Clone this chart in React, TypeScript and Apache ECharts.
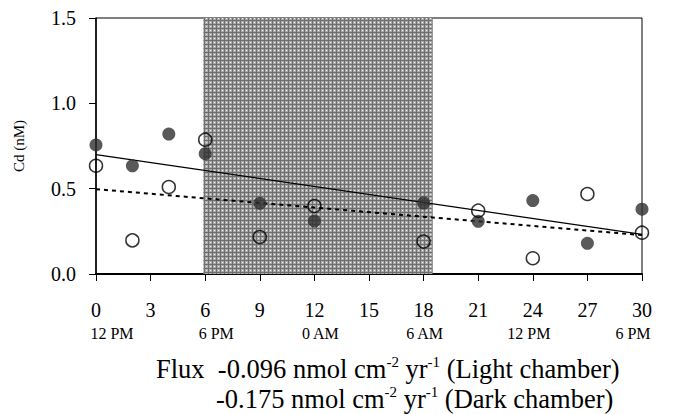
import React, { useEffect, useRef } from "react";
import * as echarts from "echarts";

const hours = [0, 2, 4, 6, 9, 12, 18, 21, 24, 27, 30];
const filledCd = [0.756, 0.634, 0.82, 0.705, 0.414, 0.31, 0.416, 0.309, 0.43, 0.18, 0.38];
const openCd = [0.634, 0.197, 0.51, 0.787, 0.217, 0.398, 0.19, 0.371, 0.092, 0.469, 0.242];
const solidTrend = [[0, 0.7], [30, 0.232]];
const dashedTrend = [[0, 0.497], [30, 0.228]];
const darkStart = 5.9;
const darkEnd = 18.5;
const timeLabels = ["12 PM", "6 PM", "0 AM", "6 AM", "12 PM", "6 PM"];
const yTicks = ["0.0", "0.5", "1.0", "1.5"];

const SERIF = "Liberation Serif";

function makePattern(): string {
  const c = document.createElement("canvas");
  c.width = 4;
  c.height = 4;
  const ctx = c.getContext("2d")!;
  for (let x = 0; x < 4; x++) {
    for (let y = 0; y < 4; y++) {
      let col = "#ababab";
      if (x === 0 || y === 0) col = "#6e6e6e";
      else if (x === 2 && y === 2) col = "#eeeeee";
      ctx.fillStyle = col;
      ctx.fillRect(x, y, 1, 1);
    }
  }
  return c.toDataURL();
}

export default function App() {
  const ref = useRef<HTMLDivElement>(null);
  useEffect(() => {
    document.body.style.margin = "0";
    if (!ref.current) return;
    const chart = echarts.init(ref.current, null, { renderer: "svg" });
    const pattern = { image: makePattern(), repeat: "repeat", imageWidth: 4, imageHeight: 4 };
    const sup = { fontSize: 15, lineHeight: 14, verticalAlign: "top", fontFamily: SERIF, color: "#000" };
    const base = { fontSize: 26.5, lineHeight: 30, fontFamily: SERIF, color: "#000" };
    chart.setOption({
      animation: false,
      backgroundColor: "#fff",
      textStyle: { fontFamily: SERIF },
      grid: [
        { left: 96, right: 31, top: 18, bottom: 140, show: true, borderColor: "#000", borderWidth: 1 },
        { left: 112, right: 40, top: 18, bottom: 140, show: false },
      ],
      xAxis: [
        {
          type: "value",
          gridIndex: 0,
          min: 0,
          max: 30,
          interval: 3,
          axisLine: { show: true, onZero: false, lineStyle: { color: "#000", width: 2 } },
          axisTick: { show: true, inside: false, length: 7, lineStyle: { color: "#000" } },
          axisLabel: { margin: 26, fontSize: 20, fontFamily: SERIF, color: "#000" },
          splitLine: { show: false },
        },
        {
          type: "value",
          gridIndex: 1,
          min: 0,
          max: 30,
          interval: 6,
          axisLine: { show: false },
          axisTick: { show: false },
          axisLabel: {
            margin: 51,
            fontSize: 16,
            fontFamily: SERIF,
            color: "#000",
            formatter: (v: number) => timeLabels[Math.round(v / 6)] ?? "",
          },
          splitLine: { show: false },
        },
      ],
      yAxis: [
        {
          type: "value",
          gridIndex: 0,
          min: 0,
          max: 1.5,
          interval: 0.5,
          name: "Cd (nM)",
          nameLocation: "middle",
          nameGap: 70,
          nameTextStyle: { fontSize: 15, fontFamily: SERIF, color: "#000" },
          axisLine: { show: true, lineStyle: { color: "#000", width: 1.5 } },
          axisTick: { show: true, inside: false, length: 7, lineStyle: { color: "#000" } },
          axisLabel: {
            margin: 20,
            fontSize: 20,
            fontFamily: SERIF,
            color: "#000",
            formatter: (v: number) => yTicks[Math.round(v / 0.5)] ?? "",
          },
          splitLine: { show: false },
        },
        {
          type: "value",
          gridIndex: 1,
          min: 0,
          max: 1.5,
          show: false,
        },
      ],
      series: [
        {
          type: "line",
          xAxisIndex: 0,
          yAxisIndex: 0,
          data: [],
          z: 1,
          silent: true,
          markArea: {
            silent: true,
            itemStyle: { color: pattern, borderWidth: 0 },
            data: [[{ xAxis: darkStart }, { xAxis: darkEnd }]],
          },
        },
        {
          type: "line",
          data: solidTrend,
          symbol: "none",
          z: 2,
          lineStyle: { color: "#000", width: 1.3, type: "solid" },
        },
        {
          type: "line",
          data: dashedTrend,
          symbol: "none",
          z: 2,
          lineStyle: { color: "#000", width: 2, type: [4, 4] },
        },
        {
          type: "scatter",
          data: hours.map((h, i) => [h, filledCd[i]]),
          symbol: "circle",
          symbolSize: 13,
          z: 3,
          itemStyle: { color: "#303030", borderWidth: 0 },
        },
        {
          type: "scatter",
          data: hours.map((h, i) => [h, openCd[i]]),
          symbol: "circle",
          symbolSize: 13,
          z: 4,
          itemStyle: { color: "none", borderColor: "#000", borderWidth: 1.5 },
        },
      ],
      graphic: [
        {
          type: "text",
          left: 156,
          top: 354,
          style: {
            text: "{b|Flux  -0.096 nmol cm}{s|-2}{b| yr}{s|-1}{b| (Light chamber)}",
            rich: { b: base, s: sup },
          },
        },
        {
          type: "text",
          left: 216,
          top: 384,
          style: {
            text: "{b|-0.175 nmol cm}{s|-2}{b| yr}{s|-1}{b| (Dark chamber)}",
            rich: { b: base, s: sup },
          },
        },
      ],
    });
    return () => chart.dispose();
  }, []);
  return <div ref={ref} style={{ width: 673, height: 414 }} />;
}
